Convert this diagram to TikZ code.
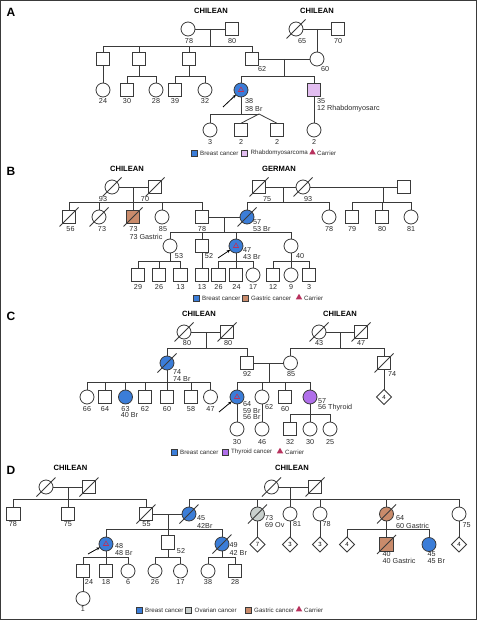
\documentclass[tikz,border=0pt]{standalone}
\usepackage{fontspec}
\setmainfont{Liberation Sans}
\usetikzlibrary{shapes.geometric,arrows.meta}
\definecolor{brc}{HTML}{3B7DD8}
\definecolor{rhc}{HTML}{E2BDF0}
\definecolor{gac}{HTML}{C98B6B}
\definecolor{thc}{HTML}{B06FEA}
\definecolor{ovc}{HTML}{C9D0CD}
\definecolor{carc}{HTML}{B8325E}
\definecolor{lc}{HTML}{3A3A3A}
\definecolor{txt}{HTML}{2A2A2A}
\newcommand\pdDead[1]{\draw[ln] ([shift={(-9.5,9.5)}]#1.center) -- ([shift={(9.5,-9.5)}]#1.center);}
\begin{document}
\begin{tikzpicture}[x=1pt,y=-1pt,
  sym/.style={draw=lc, line width=0.8pt, inner sep=0pt, outer sep=0pt, fill=white},
  fem/.style={sym, circle, minimum size=14pt},
  mal/.style={sym, rectangle, minimum size=13.5pt},
  dia/.style={sym, diamond, minimum size=15pt, font=\fontsize{6}{6}\selectfont},
  ln/.style={draw=lc, line width=0.8pt},
  arr/.style={draw=black, line width=0.8pt, -{Stealth[length=3.5pt,width=3pt]}},
  lab/.style={font=\fontsize{7.2}{7.2}\selectfont, inner sep=0pt, text=txt},
  labw/.style={lab, anchor=west},
  eth/.style={font=\bfseries\fontsize{7.6}{7.6}\selectfont, inner sep=0pt},
  panel/.style={font=\bfseries\fontsize{12}{12}\selectfont, inner sep=0pt},
  leg/.style={font=\fontsize{6.2}{6.2}\selectfont, inner sep=0pt, anchor=west, text=txt},
  legsq/.style={draw=lc, line width=0.5pt, minimum size=6pt, inner sep=0pt},
  legtri/.style={regular polygon, regular polygon sides=3, fill=carc, minimum size=7.5pt, inner sep=0pt},
  cartri/.style={regular polygon, regular polygon sides=3, draw=carc, line width=0.6pt, minimum size=6pt, inner sep=0pt}
]
\useasboundingbox (0,0) rectangle (477,620);
\draw[line width=1pt, draw=lc] (0.6,0.6) rectangle (476.4,619.2);

%%%%%%%%%%%%%%%% PANEL A
\node[panel] (pa) at (11,12.5) {A};
\node[eth] (ea1) at (211,11) {CHILEAN};
\node[eth] (ea2) at (317,11) {CHILEAN};
\node[fem] (a1) at (188,29) {};
\node[mal] (a2) at (232,29) {};
\node[lab] (la1) at (189,41) {78};
\node[lab] (la2) at (232,41) {80};
\node[fem] (a7) at (296,29) {};
\node[mal] (a8) at (338,29) {};
\node[lab] (la7) at (302,41) {65};
\node[lab] (la8) at (338,41) {70};
\node[mal] (a3) at (103,59) {};
\node[mal] (a4) at (139,59) {};
\node[mal] (a5) at (189,59) {};
\node[mal] (a6) at (252,59) {};
\node[lab] (la6) at (262,69) {62};
\node[fem] (a9) at (317,59) {};
\node[lab] (la9) at (325,69) {60};
\node[fem] (a12) at (103,90) {};
\node[mal] (a13) at (127,90) {};
\node[fem] (a14) at (156,90) {};
\node[mal] (a15) at (175,90) {};
\node[fem] (a16) at (205,90) {};
\node[lab] (la12) at (103,101) {24};
\node[lab] (la13) at (127,101) {30};
\node[lab] (la14) at (156,101) {28};
\node[lab] (la15) at (175,101) {39};
\node[lab] (la16) at (205,101) {32};
\node[fem, fill=brc] (a10) at (241,90) {};
\node[cartri] (ta10) at (a10.center) {};
\node[labw] (la10a) at (245,101) {38};
\node[labw] (la10b) at (245,109) {38 Br};
\node[mal, fill=rhc] (a11) at (314,90) {};
\node[labw] (la11a) at (317,101) {35};
\node[labw] (la11b) at (317,109) {12 Rhabdomyosarc};
\node[fem] (a17) at (314,130) {};
\node[lab] (la17) at (314,142) {2};
\node[fem] (a18) at (210,130) {};
\node[mal] (a19) at (241,130) {};
\node[mal] (a20) at (277,130) {};
\node[lab] (la18) at (210,142) {3};
\node[lab] (la19) at (241,142) {2};
\node[lab] (la20) at (277,142) {2};
\pdDead{a7}
\coordinate (mA1) at (210,29); \coordinate (sA1) at (210,46);
\coordinate (mA2) at (317,29);
\coordinate (mA3) at (284,59); \coordinate (sA3) at (284,76);
\coordinate (sA4) at (139,76); \coordinate (sA5) at (189,76);
\coordinate (sA10) at (241,114); \coordinate (tA) at (259,114);
\coordinate (pA) at (223,107);
\draw[ln] (a1) -- (a2);
\draw[ln] (mA1) -- (sA1);
\draw[ln] (sA1) -| (a3); \draw[ln] (sA1) -| (a4); \draw[ln] (sA1) -| (a5); \draw[ln] (sA1) -| (a6);
\draw[ln] (a7) -- (a8);
\draw[ln] (mA2) -- (a9);
\draw[ln] (a6) -- (a9);
\draw[ln] (mA3) -- (sA3);
\draw[ln] (sA3) -| (a10); \draw[ln] (sA3) -| (a11);
\draw[ln] (a3) -- (a12);
\draw[ln] (a4) -- (sA4); \draw[ln] (sA4) -| (a13); \draw[ln] (sA4) -| (a14);
\draw[ln] (a5) -- (sA5); \draw[ln] (sA5) -| (a15); \draw[ln] (sA5) -| (a16);
\draw[ln] (a11) -- (a17);
\draw[ln] (a10) -- (sA10); \draw[ln] (sA10) -| (a18); \draw[ln] (sA10) -- (tA);
\draw[ln] (tA) -- (a19.north); \draw[ln] (tA) -- (a20.north);
\draw[arr] (pA) -- (a10);
% legend A
\node[legsq, fill=brc] (lgA1) at (194,153) {};
\node[leg] (lgA1t) at (200,153) {Breast cancer};
\node[legsq, fill=rhc] (lgA2) at (244.5,153) {};
\node[leg] (lgA2t) at (250.5,153) {Rhabdomyosarcoma};
\node[legtri] (lgA3) at (312.5,152.5) {};
\node[leg] (lgA3t) at (317,153) {Carrier};

%%%%%%%%%%%%%%%% PANEL B
\node[panel] (pb) at (11,171) {B};
\node[eth] (eb1) at (127,169) {CHILEAN};
\node[eth] (eb2) at (279,169) {GERMAN};
\node[fem] (b1) at (112,187) {};
\node[mal] (b2) at (155,187) {};
\node[lab] (lb1) at (103,199) {93};
\node[lab] (lb2) at (145,199) {70};
\node[mal] (b3) at (69,217) {};
\node[fem] (b4) at (99,217) {};
\node[mal, fill=gac] (b5) at (133,217) {};
\node[fem] (b6) at (162,217) {};
\node[mal] (b7) at (202,217) {};
\node[lab] (lb3) at (70.5,229) {56};
\node[lab] (lb4) at (102,229) {73};
\node[lab] (lb5) at (133.5,229) {73};
\node[lab] (lb5b) at (146,237) {73 Gastric};
\node[lab] (lb6) at (163,229) {85};
\node[lab] (lb7) at (202,229) {78};
\node[fem, fill=brc] (b8) at (247,217) {};
\node[labw] (lb8a) at (253,222) {57};
\node[labw] (lb8b) at (253,229) {53 Br};
\node[mal] (b9) at (259,187) {};
\node[fem] (b10) at (303,187) {};
\node[mal] (b11) at (404,187) {};
\node[lab] (lb9) at (267,199) {75};
\node[lab] (lb10) at (308,199) {93};
\node[fem] (b12) at (329,217) {};
\node[lab] (lb12) at (329,229) {78};
\node[mal] (b13) at (352,217) {};
\node[mal] (b14) at (382,217) {};
\node[fem] (b15) at (411,217) {};
\node[lab] (lb13) at (352,229) {79};
\node[lab] (lb14) at (382,229) {80};
\node[lab] (lb15) at (411,229) {81};
\node[fem] (b16) at (170,246) {};
\node[lab] (lb16) at (179,256) {53};
\node[mal] (b17) at (202,246) {};
\node[lab] (lb17) at (209,256) {52};
\node[fem, fill=brc] (b18) at (236,246) {};
\node[cartri] (tb18) at (b18.center) {};
\node[labw] (lb18a) at (243,250.5) {47};
\node[labw] (lb18b) at (243,257) {43 Br};
\node[fem] (b19) at (291,246) {};
\node[lab] (lb19) at (300,256) {40};
\node[mal] (b20) at (138,275) {};
\node[mal] (b21) at (159,275) {};
\node[mal] (b22) at (180.5,275) {};
\node[mal] (b23) at (202,275) {};
\node[mal] (b24) at (218.5,275) {};
\node[mal] (b25) at (236,275) {};
\node[fem] (b26) at (253,275) {};
\node[mal] (b27) at (273,275) {};
\node[fem] (b28) at (291,275) {};
\node[mal] (b29) at (309,275) {};
\node[lab] (lb20) at (138,287) {29};
\node[lab] (lb21) at (159,287) {26};
\node[lab] (lb22) at (180.5,287) {13};
\node[lab] (lb23) at (202,287) {13};
\node[lab] (lb24) at (218.5,287) {26};
\node[lab] (lb25) at (236.5,287) {24};
\node[lab] (lb26) at (253,287) {17};
\node[lab] (lb27) at (273,287) {12};
\node[lab] (lb28) at (291,287) {9};
\node[lab] (lb29) at (309,287) {3};
\pdDead{b1} \pdDead{b2} \pdDead{b3} \pdDead{b4} \pdDead{b5} \pdDead{b8} \pdDead{b9} \pdDead{b10}
\coordinate (mB1) at (133,187); \coordinate (sB1) at (133,202);
\coordinate (mB2) at (283,187); \coordinate (sB2) at (283,202);
\coordinate (mB3) at (383,187); \coordinate (sB3) at (383,202);
\coordinate (mB4) at (224,217); \coordinate (sB4) at (224,232);
\coordinate (sB16) at (170,261); \coordinate (sB18) at (236,261); \coordinate (sB19) at (291,261);
\coordinate (pB) at (218,258);
\draw[ln] (b1) -- (b2);
\draw[ln] (mB1) -- (sB1);
\draw[ln] (sB1) -| (b3); \draw[ln] (sB1) -| (b4); \draw[ln] (sB1) -| (b5); \draw[ln] (sB1) -| (b6); \draw[ln] (sB1) -| (b7);
\draw[ln] (b9) -- (b10); \draw[ln] (b10) -- (b11);
\draw[ln] (mB2) -- (sB2); \draw[ln] (sB2) -| (b8); \draw[ln] (sB2) -| (b12);
\draw[ln] (mB3) -- (sB3); \draw[ln] (sB3) -| (b13); \draw[ln] (sB3) -| (b14); \draw[ln] (sB3) -| (b15);
\draw[ln] (b7) -- (b8);
\draw[ln] (mB4) -- (sB4);
\draw[ln] (sB4) -| (b16); \draw[ln] (sB4) -| (b17); \draw[ln] (sB4) -| (b18); \draw[ln] (sB4) -| (b19);
\draw[ln] (b16) -- (sB16); \draw[ln] (sB16) -| (b20); \draw[ln] (sB16) -| (b21); \draw[ln] (sB16) -| (b22);
\draw[ln] (b17) -- (b23);
\draw[ln] (b18) -- (sB18); \draw[ln] (sB18) -| (b24); \draw[ln] (sB18) -| (b25); \draw[ln] (sB18) -| (b26);
\draw[ln] (b19) -- (sB19); \draw[ln] (sB19) -| (b27); \draw[ln] (sB19) -| (b28); \draw[ln] (sB19) -| (b29);
\draw[arr] (pB) -- (b18);
% legend B
\node[legsq, fill=brc] (lgB1) at (196,298) {};
\node[leg] (lgB1t) at (202,298) {Breast cancer};
\node[legsq, fill=gac] (lgB2) at (245,298) {};
\node[leg] (lgB2t) at (251,298) {Gastric cancer};
\node[legtri] (lgB3) at (299,297.5) {};
\node[leg] (lgB3t) at (304,298) {Carrier};

%%%%%%%%%%%%%%%% PANEL C
\node[panel] (pc) at (11,316) {C};
\node[eth] (ec1) at (199,314) {CHILEAN};
\node[eth] (ec2) at (340,314) {CHILEAN};
\node[fem] (c1) at (184,332) {};
\node[mal] (c2) at (227,332) {};
\node[lab] (lc1) at (187,343) {80};
\node[lab] (lc2) at (228,343) {80};
\node[fem, fill=brc] (c3) at (167,363) {};
\node[labw] (lc3a) at (173,372) {74};
\node[labw] (lc3b) at (173,379) {74 Br};
\node[mal] (c4) at (247,363) {};
\node[lab] (lc4) at (247,374) {92};
\node[fem] (c5) at (87,397) {};
\node[mal] (c6) at (105,397) {};
\node[fem, fill=brc] (c7) at (125.5,397) {};
\node[mal] (c8) at (145,397) {};
\node[mal] (c9) at (167,397) {};
\node[mal] (c10) at (191,397) {};
\node[fem] (c11) at (210.5,397) {};
\node[lab] (lc5) at (87,409) {66};
\node[lab] (lc6) at (105,409) {64};
\node[lab] (lc7) at (125.5,409) {63};
\node[lab] (lc7b) at (129.5,415.5) {40 Br};
\node[lab] (lc8) at (145,409) {62};
\node[lab] (lc9) at (167,409) {60};
\node[lab] (lc10) at (191,409) {58};
\node[lab] (lc11) at (210.5,409) {47};
\node[fem] (c12) at (319,332) {};
\node[mal] (c13) at (361,332) {};
\node[lab] (lc12) at (319,343) {43};
\node[lab] (lc13) at (361,343) {47};
\node[fem] (c14) at (290.5,363) {};
\node[lab] (lc14) at (291,374) {85};
\node[mal] (c15) at (384,363) {};
\node[lab] (lc15) at (392,374) {74};
\node[dia] (c20) at (384,397) {4};
\node[fem, fill=brc] (c16) at (237,397) {};
\node[cartri] (tc16) at (c16.center) {};
\node[labw] (lc16a) at (243,404.5) {64};
\node[labw] (lc16b) at (243,411) {59 Br};
\node[labw] (lc16c) at (243,417.5) {56 Br};
\node[fem] (c17) at (262,397) {};
\node[lab] (lc17) at (269,407) {62};
\node[mal] (c18) at (285,397) {};
\node[lab] (lc18) at (285,409) {60};
\node[fem, fill=thc] (c19) at (310,397) {};
\node[labw] (lc19a) at (318,401.5) {57};
\node[labw] (lc19b) at (318,408) {56 Thyroid};
\node[fem] (c21) at (237,429) {};
\node[fem] (c22) at (262,429) {};
\node[mal] (c23) at (290,429) {};
\node[fem] (c24) at (310,429) {};
\node[fem] (c25) at (330,429) {};
\node[lab] (lc21) at (237,442) {30};
\node[lab] (lc22) at (262,442) {46};
\node[lab] (lc23) at (290,442) {32};
\node[lab] (lc24) at (310,442) {30};
\node[lab] (lc25) at (330,442) {25};
\pdDead{c1} \pdDead{c2} \pdDead{c3} \pdDead{c12} \pdDead{c13} \pdDead{c15}
\coordinate (mC1) at (206,332); \coordinate (sC1) at (206,348);
\coordinate (sC3) at (167,382);
\coordinate (mC2) at (340,332); \coordinate (sC2) at (340,348);
\coordinate (mC3) at (269,363); \coordinate (sC4) at (269,382);
\coordinate (sC19) at (310,414);
\coordinate (pC) at (219,412);
\draw[ln] (c1) -- (c2);
\draw[ln] (mC1) -- (sC1); \draw[ln] (sC1) -| (c3); \draw[ln] (sC1) -| (c4);
\draw[ln] (c3) -- (sC3);
\draw[ln] (sC3) -| (c5); \draw[ln] (sC3) -| (c6); \draw[ln] (sC3) -| (c7); \draw[ln] (sC3) -| (c8);
\draw[ln] (sC3) -- (c9); \draw[ln] (sC3) -| (c10); \draw[ln] (sC3) -| (c11);
\draw[ln] (c12) -- (c13);
\draw[ln] (mC2) -- (sC2); \draw[ln] (sC2) -| (c14); \draw[ln] (sC2) -| (c15);
\draw[ln] (c15) -- (c20);
\draw[ln] (c4) -- (c14);
\draw[ln] (mC3) -- (sC4);
\draw[ln] (sC4) -| (c16); \draw[ln] (sC4) -| (c17); \draw[ln] (sC4) -| (c18); \draw[ln] (sC4) -| (c19);
\draw[ln] (c16) -- (c21); \draw[ln] (c17) -- (c22);
\draw[ln] (c19) -- (sC19); \draw[ln] (sC19) -| (c23); \draw[ln] (sC19) -- (c24); \draw[ln] (sC19) -| (c25);
\draw[arr] (pC) -- (c16);
% legend C
\node[legsq, fill=brc] (lgC1) at (174,452) {};
\node[leg] (lgC1t) at (180,452) {Breast cancer};
\node[legsq, fill=thc] (lgC2) at (225,452) {};
\node[leg] (lgC2t) at (231,452) {Thyroid cancer};
\node[legtri] (lgC3) at (280,451.5) {};
\node[leg] (lgC3t) at (285,452) {Carrier};

%%%%%%%%%%%%%%%% PANEL D
\node[panel] (pd) at (11,470) {D};
\node[eth] (ed1) at (70.5,468) {CHILEAN};
\node[eth] (ed2) at (292,468) {CHILEAN};
\node[fem] (d1) at (46,487) {};
\node[mal] (d2) at (89,487) {};
\node[mal] (d3) at (13.5,514) {};
\node[mal] (d4) at (68,514) {};
\node[mal] (d5) at (146,514) {};
\node[lab] (ld3) at (13,524.5) {78};
\node[lab] (ld4) at (68,524.5) {75};
\node[lab] (ld5) at (146.5,524.5) {55};
\node[fem, fill=brc] (d6) at (189,514) {};
\node[labw] (ld6a) at (197,518) {45};
\node[labw] (ld6b) at (197,525.5) {42Br};
\node[fem, fill=brc] (d7) at (106,544) {};
\node[cartri] (td7) at (d7.center) {};
\node[labw] (ld7a) at (115,546.5) {48};
\node[labw] (ld7b) at (115,553.5) {48 Br};
\node[mal] (d8) at (168,542.5) {};
\node[lab] (ld8) at (181,551) {52};
\node[fem, fill=brc] (d9) at (222,544) {};
\node[labw] (ld9a) at (229.5,545.5) {49};
\node[labw] (ld9b) at (229.5,553) {42 Br};
\node[mal] (d10) at (83,571) {};
\node[mal] (d11) at (106,571) {};
\node[fem] (d12) at (128,571) {};
\node[fem] (d13) at (155,571) {};
\node[fem] (d14) at (180.5,571) {};
\node[fem] (d15) at (208,571) {};
\node[mal] (d16) at (235,571) {};
\node[lab] (ld10) at (89,582) {24};
\node[lab] (ld11) at (106,582) {18};
\node[lab] (ld12) at (128,582) {6};
\node[lab] (ld13) at (155,582) {26};
\node[lab] (ld14) at (180.5,582) {17};
\node[lab] (ld15) at (208,582) {38};
\node[lab] (ld16) at (235,582) {28};
\node[fem] (d17) at (83,598.5) {};
\node[lab] (ld17) at (83,609) {1};
\node[fem] (d18) at (271.5,487) {};
\node[mal] (d19) at (315,487) {};
\node[fem, fill=ovc] (d20) at (257.5,514) {};
\node[labw] (ld20a) at (265,518.5) {73};
\node[labw] (ld20b) at (265,525.5) {69 Ov};
\node[fem] (d21) at (290,514) {};
\node[lab] (ld21) at (297,524.5) {81};
\node[fem] (d22) at (320,514) {};
\node[lab] (ld22) at (326.5,524.5) {78};
\node[fem, fill=gac] (d23) at (386.5,514) {};
\node[labw] (ld23a) at (396,518.5) {64};
\node[labw] (ld23b) at (396,525.5) {60 Gastric};
\node[fem] (d24) at (459,514) {};
\node[lab] (ld24) at (466.5,525.5) {75};
\node[dia] (d25) at (257.5,544.5) {7};
\node[dia] (d26) at (290,544.5) {3};
\node[dia] (d27) at (320,544.5) {3};
\node[dia] (d31) at (459,544.5) {4};
\node[dia] (d28) at (347,544.5) {4};
\node[mal, fill=gac] (d29) at (386.5,544.5) {};
\node[fem, fill=brc] (d30) at (429,544.5) {};
\node[labw] (ld29a) at (382.5,554) {40};
\node[labw] (ld29b) at (382.5,561) {40 Gastric};
\node[labw] (ld30a) at (427.5,554) {45};
\node[labw] (ld30b) at (427.5,561) {45 Br};
\pdDead{d1} \pdDead{d2} \pdDead{d5} \pdDead{d6} \pdDead{d9} \pdDead{d18} \pdDead{d19} \pdDead{d20} \pdDead{d23} \pdDead{d29}
\coordinate (mD1) at (68,487); \coordinate (sD1) at (68,499);
\coordinate (mD2) at (168,514); \coordinate (sD2) at (168,529);
\coordinate (sD7) at (106,557); \coordinate (sD8) at (168,557); \coordinate (sD9) at (222,557);
\coordinate (mD3) at (290,487); \coordinate (sD3) at (290,499);
\coordinate (sD23) at (386.5,529);
\coordinate (pD) at (88,554);
\draw[ln] (d1) -- (d2);
\draw[ln] (mD1) -- (sD1); \draw[ln] (sD1) -| (d3); \draw[ln] (sD1) -- (d4); \draw[ln] (sD1) -| (d5);
\draw[ln] (d5) -- (d6);
\draw[ln] (mD2) -- (sD2); \draw[ln] (sD2) -| (d7); \draw[ln] (sD2) -- (d8); \draw[ln] (sD2) -| (d9);
\draw[ln] (d7) -- (sD7); \draw[ln] (sD7) -| (d10); \draw[ln] (sD7) -- (d11); \draw[ln] (sD7) -| (d12);
\draw[ln] (d8) -- (sD8); \draw[ln] (sD8) -| (d13); \draw[ln] (sD8) -| (d14);
\draw[ln] (d9) -- (sD9); \draw[ln] (sD9) -| (d15); \draw[ln] (sD9) -| (d16);
\draw[ln] (d10) -- (d17);
\draw[ln] (d18) -- (d19);
\draw[ln] (mD3) -- (sD3);
\draw[ln] (sD3) -| (d6); \draw[ln] (sD3) -| (d20); \draw[ln] (sD3) -- (d21); \draw[ln] (sD3) -| (d22);
\draw[ln] (sD3) -| (d23); \draw[ln] (sD3) -| (d24);
\draw[ln] (d20) -- (d25); \draw[ln] (d21) -- (d26); \draw[ln] (d22) -- (d27); \draw[ln] (d24) -- (d31);
\draw[ln] (d23) -- (sD23); \draw[ln] (sD23) -| (d28); \draw[ln] (sD23) -- (d29); \draw[ln] (sD23) -| (d30);
\draw[arr] (pD) -- (d7);
% legend D
\node[legsq, fill=brc] (lgD1) at (139,610) {};
\node[leg] (lgD1t) at (145,610) {Breast cancer};
\node[legsq, fill=ovc] (lgD2) at (188.5,610) {};
\node[leg] (lgD2t) at (194.5,610) {Ovarian cancer};
\node[legsq, fill=gac] (lgD3) at (248,610) {};
\node[leg] (lgD3t) at (254,610) {Gastric cancer};
\node[legtri] (lgD4) at (299,609.5) {};
\node[leg] (lgD4t) at (304,610) {Carrier};
\end{tikzpicture}
\end{document}
